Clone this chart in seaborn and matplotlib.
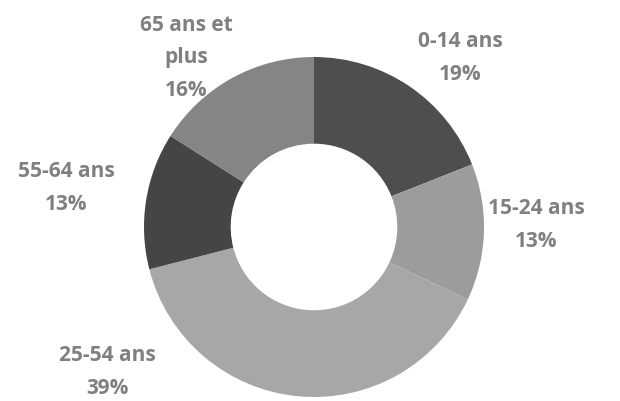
import matplotlib
matplotlib.use("Agg")
import matplotlib.pyplot as plt
import seaborn as sns

categories = ["0-14 ans", "15-24 ans", "25-54 ans", "55-64 ans", "65 ans et\nplus"]
values = [19, 13, 39, 13, 16]
colors = ["#4e4e4e", "#9c9c9c", "#a7a7a7", "#454545", "#858585"]

sns.set_theme(style="white")
plt.rcParams['font.family'] = ['Open Sans', 'DejaVu Sans']

fig = plt.figure(figsize=(6.2, 4.01), dpi=100)
ax = fig.add_axes([0, 0, 1, 1])

H = 401
cx, cy, R = 314, H - 227, 170
ax.pie(values, colors=colors, startangle=90, counterclock=False,
       center=(cx, cy), radius=R,
       wedgeprops=dict(width=R * 0.51, edgecolor="none"))

label_pos = [(460, 58), (536, 225), (107, 372), (66, 188), (186, 58)]
for cat, v, (x, y) in zip(categories, values, label_pos):
    ax.text(x, H - y, f"{cat}\n{v}%", ha="center", va="center",
            fontsize=15, fontweight="bold", color="#808080", linespacing=1.72)

ax.set_xlim(0, 620)
ax.set_ylim(0, H)
ax.set_aspect("equal")
ax.axis("off")
fig.savefig("out.png", dpi=100, facecolor="white")
